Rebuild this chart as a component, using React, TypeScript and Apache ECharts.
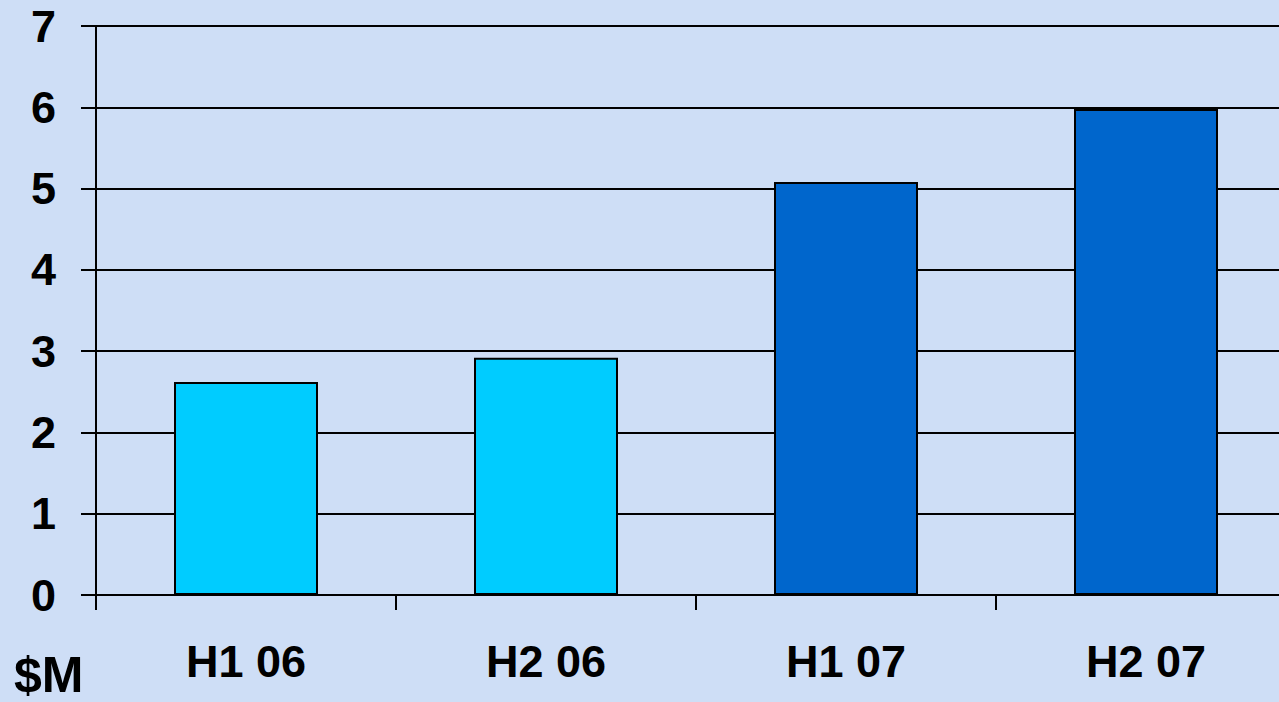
import React, { useEffect, useRef } from "react";
import * as echarts from "echarts";

// Half-year revenue, in millions of dollars
const categories = ["H1 06", "H2 06", "H1 07", "H2 07"];
const revenue = [2.62, 2.92, 5.08, 5.98];
const barColors = ["#00CCFF", "#00CCFF", "#0066CC", "#0066CC"];
const yTicks = { min: 0, max: 7, interval: 1 };
const unitLabel = "$M";

export default function App() {
  const ref = useRef<HTMLDivElement>(null);

  useEffect(() => {
    if (!ref.current) return;
    const chart = echarts.init(ref.current, null, { renderer: "svg" });
    const font = "'Liberation Sans', Arial, sans-serif";
    chart.setOption({
      animation: false,
      backgroundColor: "#CEDEF6",
      // the plot runs a little past the right edge of the visible area
      grid: { left: 96, top: 26, bottom: 107, right: 0, containLabel: false },
      xAxis: {
        type: "category",
        data: categories,
        axisLine: { lineStyle: { color: "#000", width: 2 } },
        axisTick: { show: true, length: 15, lineStyle: { color: "#000", width: 2 } },
        axisLabel: {
          color: "#000",
          fontSize: 45,
          fontWeight: "bold",
          fontFamily: font,
          margin: 44,
        },
      },
      yAxis: {
        type: "value",
        min: yTicks.min,
        max: yTicks.max,
        interval: yTicks.interval,
        axisLine: { show: true, lineStyle: { color: "#000", width: 2 } },
        axisTick: { show: true, length: 15, lineStyle: { color: "#000", width: 2 } },
        splitLine: { show: true, lineStyle: { color: "#000", width: 2 } },
        axisLabel: {
          color: "#000",
          fontSize: 45,
          fontWeight: "bold",
          fontFamily: font,
          margin: 40,
        },
      },
      series: [
        {
          type: "bar",
          barWidth: 144,
          data: revenue.map((v, i) => ({
            value: v,
            itemStyle: { color: barColors[i], borderColor: "#000", borderWidth: 2 },
          })),
        },
      ],
      graphic: [
        {
          type: "text",
          left: 14,
          top: 650,
          style: {
            text: unitLabel,
            fill: "#000",
            font: `bold 50px ${font}`,
          },
        },
      ],
    });
    return () => chart.dispose();
  }, []);

  return (
    <div
      style={{
        position: "absolute",
        left: 0,
        top: 0,
        width: 1279,
        height: 702,
        overflow: "hidden",
      }}
    >
      <div ref={ref} style={{ width: 1296, height: 702 }} />
    </div>
  );
}
